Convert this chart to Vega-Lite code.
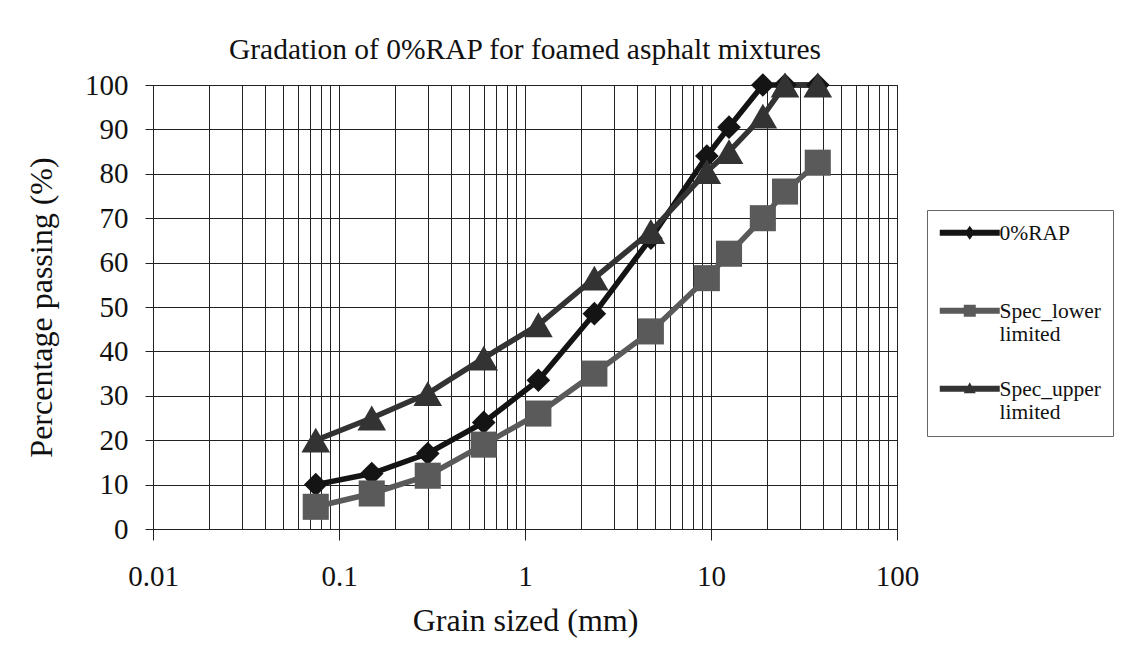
{
  "$schema": "https://vega.github.io/schema/vega-lite/v6.json",
  "width": 744,
  "height": 444,
  "autosize": {"type": "none"},
  "padding": {"left": 153, "top": 85, "right": 250, "bottom": 124},
  "background": "#ffffff",
  "title": {
    "text": "Gradation of 0%RAP for foamed asphalt mixtures",
    "font": "Liberation Serif",
    "fontSize": 29.5,
    "fontWeight": "normal",
    "color": "#111111",
    "anchor": "middle",
    "frame": "group",
    "baseline": "alphabetic",
    "offset": 27,
    "dy": 44
  },
  "config": {
    "view": {"stroke": "#222222", "strokeWidth": 1},
    "axis": {
      "labelFont": "Liberation Serif",
      "titleFont": "Liberation Serif",
      "labelColor": "#111111",
      "titleColor": "#111111",
      "titleFontWeight": "normal",
      "domainColor": "#222222",
      "tickColor": "#222222",
      "gridColor": "#222222",
      "gridOpacity": 1,
      "gridWidth": 1
    }
  },
  "data": {
    "values": [
      {"series": "0%RAP", "size": 0.075, "pass": 10},
      {"series": "0%RAP", "size": 0.15, "pass": 12.5},
      {"series": "0%RAP", "size": 0.3, "pass": 17},
      {"series": "0%RAP", "size": 0.6, "pass": 24},
      {"series": "0%RAP", "size": 1.18, "pass": 33.5},
      {"series": "0%RAP", "size": 2.36, "pass": 48.5},
      {"series": "0%RAP", "size": 4.75, "pass": 65.5},
      {"series": "0%RAP", "size": 9.5, "pass": 84},
      {"series": "0%RAP", "size": 12.5, "pass": 90.5},
      {"series": "0%RAP", "size": 19, "pass": 100},
      {"series": "0%RAP", "size": 25, "pass": 100},
      {"series": "0%RAP", "size": 37.5, "pass": 100},
      {"series": "Spec_lower limited", "size": 0.075, "pass": 5},
      {"series": "Spec_lower limited", "size": 0.15, "pass": 8},
      {"series": "Spec_lower limited", "size": 0.3, "pass": 12},
      {"series": "Spec_lower limited", "size": 0.6, "pass": 19},
      {"series": "Spec_lower limited", "size": 1.18, "pass": 26},
      {"series": "Spec_lower limited", "size": 2.36, "pass": 35},
      {"series": "Spec_lower limited", "size": 4.75, "pass": 44.5},
      {"series": "Spec_lower limited", "size": 9.5, "pass": 56.5},
      {"series": "Spec_lower limited", "size": 12.5, "pass": 62},
      {"series": "Spec_lower limited", "size": 19, "pass": 70},
      {"series": "Spec_lower limited", "size": 25, "pass": 76},
      {"series": "Spec_lower limited", "size": 37.5, "pass": 82.5},
      {"series": "Spec_upper limited", "size": 0.075, "pass": 20},
      {"series": "Spec_upper limited", "size": 0.15, "pass": 25},
      {"series": "Spec_upper limited", "size": 0.3, "pass": 30.5},
      {"series": "Spec_upper limited", "size": 0.6, "pass": 38.5},
      {"series": "Spec_upper limited", "size": 1.18, "pass": 46},
      {"series": "Spec_upper limited", "size": 2.36, "pass": 56.5},
      {"series": "Spec_upper limited", "size": 4.75, "pass": 67},
      {"series": "Spec_upper limited", "size": 9.5, "pass": 80.5},
      {"series": "Spec_upper limited", "size": 12.5, "pass": 85},
      {"series": "Spec_upper limited", "size": 19, "pass": 93},
      {"series": "Spec_upper limited", "size": 25, "pass": 100},
      {"series": "Spec_upper limited", "size": 37.5, "pass": 100}
    ]
  },
  "encoding": {
    "x": {
      "field": "size",
      "type": "quantitative",
      "scale": {"type": "log", "domain": [0.01, 100], "nice": false},
      "axis": {
        "title": "Grain sized (mm)",
        "titleFontSize": 32,
        "titlePadding": 14,
        "labelFontSize": 29,
        "labelPadding": 22,
        "labelOverlap": false,
        "labelFlush": false,
        "labelBound": false,
        "format": "~g",
        "values": [0.01, 0.02, 0.03, 0.04, 0.05, 0.06, 0.07, 0.08, 0.09, 0.1, 0.2, 0.3, 0.4, 0.5, 0.6, 0.7, 0.8, 0.9, 1, 2, 3, 4, 5, 6, 7, 8, 9, 10, 20, 30, 40, 50, 60, 70, 80, 90, 100],
        "labelExpr": "indexof(['0.01','0.1','1','10','100'], datum.label) >= 0 ? datum.label : ''",
        "tickSize": 11,
        "tickOpacity": {"expr": "indexof([0.01, 0.1, 1, 10, 100], datum.value) >= 0 ? 1 : 0"},
        "grid": true
      }
    },
    "y": {
      "field": "pass",
      "type": "quantitative",
      "scale": {"domain": [0, 100], "nice": false},
      "axis": {
        "title": "Percentage passing (%)",
        "titleFontSize": 32,
        "titlePadding": 26,
        "labelFontSize": 29,
        "labelPadding": 17,
        "tickSize": 8,
        "values": [0, 10, 20, 30, 40, 50, 60, 70, 80, 90, 100],
        "grid": true
      }
    },
    "color": {
      "field": "series",
      "type": "nominal",
      "scale": {
        "domain": ["0%RAP", "Spec_lower limited", "Spec_upper limited"],
        "range": ["#141414", "#5a5a5a", "#333333"]
      },
      "legend": {
        "orient": "none",
        "legendX": 774,
        "legendY": 125,
        "title": null,
        "strokeColor": "#666666",
        "fillColor": "#ffffff",
        "padding": 12,
        "symbolSize": 400,
        "symbolStrokeWidth": 0,
        "symbolType": "circle",
        "labelFont": "Liberation Serif",
        "labelFontSize": 21.5,
        "labelColor": "#111111",
        "labelOffset": 39,
        "labelLimit": 300,
        "rowPadding": 32,
        "labelBaseline": "alphabetic",
        "labelExpr": "datum.label === '0%RAP' ? ['0%RAP', ' '] : split(datum.label, ' ')",
        "encode": {
          "symbols": {
            "update": {
              "shape": {"signal": "datum.value === '0%RAP' ? 'M-1,-0.3H5V0.3H-1Z M2,-0.7L2.5,0L2,0.7L1.5,0Z' : datum.value === 'Spec_lower limited' ? 'M-1,-0.3H5V0.3H-1Z M1.4,-0.6H2.6V0.6H1.4Z' : 'M-1,-0.3H5V0.3H-1Z M2,-0.65L2.6,0.45L1.4,0.45Z'"}
            }
          },
          "labels": {"update": {"dy": {"value": 7}}}
        }
      }
    }
  },
  "layer": [
    {
      "mark": {"type": "line", "strokeWidth": 5.5}
    },
    {
      "transform": [{"filter": "datum.series === '0%RAP'"}],
      "mark": {"type": "point", "filled": true, "opacity": 1, "shape": "diamond", "size": 560}
    },
    {
      "transform": [{"filter": "datum.series === 'Spec_lower limited'"}],
      "mark": {"type": "point", "filled": true, "opacity": 1, "shape": "square", "size": 680}
    },
    {
      "transform": [{"filter": "datum.series === 'Spec_upper limited'"}],
      "mark": {"type": "point", "filled": true, "opacity": 1, "shape": "triangle-up", "size": 820}
    }
  ]
}
